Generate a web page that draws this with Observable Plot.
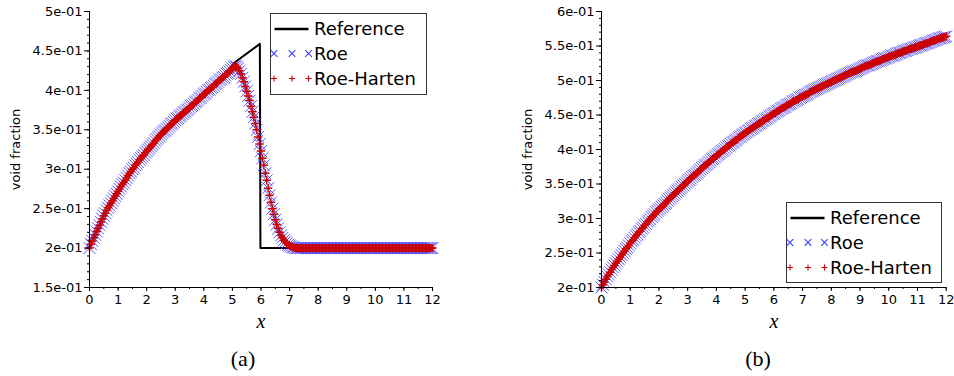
<!DOCTYPE html>
<html>
<head>
<meta charset="utf-8">
<script src="https://cdn.jsdelivr.net/npm/d3@7"></script>
<script src="https://cdn.jsdelivr.net/npm/@observablehq/plot@0.6"></script>
<style>
  body { margin: 0; background: #fff; }
  #wrap { position: relative; width: 954px; height: 376px; overflow: hidden; font-family: "DejaVu Sans", sans-serif; }
  .panel { position: absolute; top: 0; }
  .legend { position: absolute; }
  .caption { position: absolute; font-family: "Liberation Serif", serif; font-size: 22px; transform: translate(-50%, -50%); color: #000; }
  g[aria-label="x-axis label"] text { font-family: "Liberation Serif", serif; font-style: italic; font-size: 20px; }
</style>
</head>
<body>
<div id="wrap"></div>
<script>
// ---------- data ----------
const seriesNames = ["Reference", "Roe", "Roe-Harten"];
const captions = ["(a)", "(b)"];
const yLabel = "void fraction";
const xLabel = "x";

// uniform mesh: cell i sits at x = i * meshStep (0 ... 12)
const meshStep = 0.05;

// panel (a): numerical solution (Roe and Roe-Harten coincide), one row per unit of x
const numA = [
  0.200,0.205,0.209,0.213,0.217,0.221,0.225,0.229,0.233,0.237,0.241,0.244,0.248,0.251,0.254,0.257,0.260,0.263,0.266,0.269,
  0.272,0.275,0.278,0.281,0.283,0.286,0.289,0.292,0.295,0.297,0.300,0.302,0.305,0.307,0.309,0.312,0.314,0.316,0.318,0.321,
  0.323,0.325,0.327,0.329,0.331,0.333,0.336,0.338,0.340,0.342,0.344,0.346,0.348,0.349,0.351,0.353,0.355,0.357,0.358,0.360,
  0.362,0.364,0.365,0.367,0.368,0.370,0.372,0.373,0.375,0.376,0.378,0.380,0.381,0.383,0.385,0.386,0.388,0.390,0.391,0.393,
  0.395,0.396,0.398,0.400,0.401,0.403,0.404,0.406,0.408,0.409,0.411,0.413,0.414,0.416,0.417,0.419,0.421,0.422,0.424,0.426,
  0.428,0.430,0.431,0.430,0.428,0.425,0.421,0.416,0.411,0.405,0.399,0.393,0.387,0.380,0.373,0.366,0.358,0.350,0.341,0.332,
  0.323,0.314,0.305,0.295,0.286,0.276,0.267,0.258,0.250,0.243,0.236,0.230,0.225,0.220,0.216,0.213,0.210,0.208,0.206,0.204,
  0.203,0.202,0.201,0.201,0.200,0.200,0.200,0.200,0.200,0.200,0.200,0.200,0.200,0.200,0.200,0.200,0.200,0.200,0.200,0.200,
  0.200,0.200,0.200,0.200,0.200,0.200,0.200,0.200,0.200,0.200,0.200,0.200,0.200,0.200,0.200,0.200,0.200,0.200,0.200,0.200,
  0.200,0.200,0.200,0.200,0.200,0.200,0.200,0.200,0.200,0.200,0.200,0.200,0.200,0.200,0.200,0.200,0.200,0.200,0.200,0.200,
  0.200,0.200,0.200,0.200,0.200,0.200,0.200,0.200,0.200,0.200,0.200,0.200,0.200,0.200,0.200,0.200,0.200,0.200,0.200,0.200,
  0.200,0.200,0.200,0.200,0.200,0.200,0.200,0.200,0.200,0.200,0.200,0.200,0.200,0.200,0.200,0.200,0.200,0.200,0.200,0.200,
  0.200];
// panel (a): reference (exact) solution
const refAx = [0,0.5,1,1.5,2,2.5,3,3.5,4,4.5,5.1,5.96,5.98,12];
const refAy = [0.200,0.241,0.272,0.300,0.323,0.344,0.362,0.378,0.395,0.411,0.436,0.459,0.200,0.200];

// panel (b): numerical solution
const numB = [
  0.200,0.204,0.208,0.212,0.216,0.219,0.222,0.226,0.229,0.232,0.235,0.238,0.241,0.244,0.247,0.250,0.253,0.256,0.258,0.261,
  0.264,0.267,0.269,0.272,0.275,0.277,0.280,0.282,0.285,0.287,0.290,0.292,0.295,0.297,0.299,0.302,0.304,0.306,0.309,0.311,
  0.313,0.315,0.317,0.319,0.321,0.323,0.326,0.328,0.330,0.332,0.334,0.336,0.338,0.340,0.342,0.344,0.346,0.348,0.350,0.352,
  0.354,0.356,0.358,0.360,0.362,0.363,0.365,0.367,0.369,0.371,0.373,0.375,0.377,0.378,0.380,0.382,0.384,0.386,0.387,0.389,
  0.391,0.393,0.394,0.396,0.398,0.399,0.401,0.403,0.405,0.406,0.408,0.410,0.411,0.413,0.414,0.416,0.418,0.419,0.421,0.422,
  0.424,0.425,0.427,0.428,0.430,0.431,0.432,0.434,0.435,0.437,0.438,0.439,0.441,0.442,0.444,0.445,0.446,0.448,0.449,0.451,
  0.452,0.453,0.455,0.456,0.457,0.459,0.460,0.461,0.462,0.464,0.465,0.466,0.467,0.469,0.470,0.471,0.472,0.473,0.475,0.476,
  0.477,0.478,0.479,0.480,0.481,0.483,0.484,0.485,0.486,0.487,0.488,0.489,0.490,0.491,0.492,0.493,0.494,0.495,0.496,0.497,
  0.498,0.499,0.500,0.501,0.502,0.503,0.504,0.505,0.506,0.507,0.508,0.509,0.510,0.511,0.512,0.513,0.513,0.514,0.515,0.516,
  0.517,0.518,0.519,0.520,0.521,0.522,0.522,0.523,0.524,0.525,0.526,0.527,0.528,0.528,0.529,0.530,0.531,0.532,0.532,0.533,
  0.534,0.535,0.536,0.536,0.537,0.538,0.539,0.540,0.540,0.541,0.542,0.543,0.543,0.544,0.545,0.546,0.546,0.547,0.548,0.548,
  0.549,0.550,0.551,0.551,0.552,0.553,0.554,0.554,0.555,0.556,0.557,0.558,0.558,0.559,0.560,0.561,0.561,0.562,0.563,0.563,
  0.564];
// panel (b): reference
const refBx = [0,0.5,1,1.5,2,2.5,3,3.5,4,4.5,5,5.5,6,6.5,7,7.5,8,8.5,9,9.5,10,10.5,11,11.5,12];
const refBy = [0.200,0.235,0.264,0.290,0.313,0.334,0.354,0.373,0.391,0.408,0.424,0.438,0.452,0.465,0.477,0.488,0.498,0.508,0.517,0.526,0.534,0.542,0.549,0.557,0.564];

// ticks
const xTicks = [0,1,2,3,4,5,6,7,8,9,10,11,12];
const yTicksA = [0.15,0.2,0.25,0.3,0.35,0.4,0.45,0.5];
const yTicksB = [0.2,0.25,0.3,0.35,0.4,0.45,0.5,0.55,0.6];

// ---------- helpers ----------
const colRoe = "#3b3bff";
const colRH = "#cc0000";
const fmt = d => d.toExponential().replace(/e([+-])(\d)$/, "e$10$2");
const minor = (a, b, s) => d3.range(Math.round(a / s), Math.round(b / s) + 1).map(i => +(i * s).toFixed(4));

function panel(opts) {
  const num = opts.num.map((y, i) => ({x: +(i * meshStep).toFixed(4), y}));
  const ref = opts.refx.map((x, i) => ({x, y: opts.refy[i]}));
  const [y0, y1] = opts.ydomain;
  return Plot.plot({
    width: 477, height: 335,
    marginLeft: opts.ml, marginRight: opts.mr, marginTop: 11, marginBottom: 48,
    x: {domain: [0, 12]},
    y: {domain: opts.ydomain},
    style: {fontFamily: "DejaVu Sans, sans-serif", fontSize: "13px", color: "#000", background: "transparent", overflow: "visible"},
    marks: [
      Plot.line(ref, {x: "x", y: "y", stroke: "#000", strokeWidth: 2}),
      Plot.dot(num, {x: "x", y: "y", symbol: "times", r: 5.5, stroke: colRoe, strokeWidth: 1, fill: "none", strokeOpacity: 0.85}),
      Plot.dot(num, {x: "x", y: "y", symbol: "plus", r: 2.8, stroke: colRH, strokeWidth: 1.5, fill: "none"}),
      Plot.axisY(minor(y0, y1, 0.01), {tickSize: 2, text: null, label: null}),
      Plot.axisY(opts.yticks, {tickSize: 5, tickPadding: 2, tickFormat: fmt, label: yLabel, labelAnchor: "center", labelOffset: 79, labelArrow: "none"}),
      Plot.axisX(minor(0, 12, 0.5), {tickSize: 2, text: null, label: null}),
      Plot.axisX(xTicks, {tickSize: 4, tickPadding: 3, label: xLabel, labelAnchor: "center", labelOffset: 40, labelArrow: "none"}),
      Plot.ruleX([0], {stroke: "#000"}),
      Plot.ruleY([y0], {stroke: "#000"})
    ]
  });
}

function legend(parent, left, top, w, h) {
  const div = document.createElement("div");
  div.className = "legend";
  div.style.left = left + "px";
  div.style.top = top + "px";
  parent.appendChild(div);
  const svg = d3.select(div).append("svg").attr("width", w).attr("height", h);
  svg.append("rect").attr("x", 0.5).attr("y", 0.5).attr("width", w - 1).attr("height", h - 1)
    .attr("fill", "#fff").attr("stroke", "#333").attr("stroke-width", 1);
  const rows = [16, 40.5, 65.5];
  const mx = [4, 22, 38.5];
  seriesNames.forEach((name, i) => {
    const g = svg.append("g").attr("transform", `translate(0,${rows[i]})`);
    if (i === 0) {
      g.append("line").attr("x1", 4.5).attr("x2", 38.5).attr("y1", 0).attr("y2", 0).attr("stroke", "#000").attr("stroke-width", 2.5);
    } else {
      mx.forEach(x => {
        const s = i === 1 ? 3.3 : 3;
        if (i === 1) {
          g.append("path").attr("d", `M${x - s},${-s}L${x + s},${s}M${x - s},${s}L${x + s},${-s}`).attr("stroke", colRoe).attr("stroke-width", 1.1).attr("fill", "none");
        } else {
          g.append("path").attr("d", `M${x - s},0L${x + s},0M${x},${-s}L${x},${s}`).attr("stroke", colRH).attr("stroke-width", 1.1).attr("fill", "none");
        }
      });
    }
    g.append("text").attr("x", 44).attr("y", 0).attr("dy", "0.36em")
      .attr("font-family", "DejaVu Sans, sans-serif").attr("font-size", 18).attr("fill", "#000").text(name);
  });
}

// ---------- build ----------
const wrap = document.getElementById("wrap");

const pA = panel({num: numA, refx: refAx, refy: refAy, ydomain: [0.15, 0.5], yticks: yTicksA, ml: 89, mr: 45});
pA.classList.add("panel"); pA.style.left = "0px";
wrap.appendChild(pA);

const pB = panel({num: numB, refx: refBx, refy: refBy, ydomain: [0.2, 0.6], yticks: yTicksB, ml: 124, mr: 8.3});
pB.classList.add("panel"); pB.style.left = "477px";
wrap.appendChild(pB);

legend(wrap, 270, 13, 157, 82);
legend(wrap, 786, 202, 156, 81);

[[243, 359], [758, 359]].forEach(([cx, cy], i) => {
  const c = document.createElement("div");
  c.className = "caption";
  c.style.left = cx + "px";
  c.style.top = cy + "px";
  c.textContent = captions[i];
  wrap.appendChild(c);
});
</script>
</body>
</html>
